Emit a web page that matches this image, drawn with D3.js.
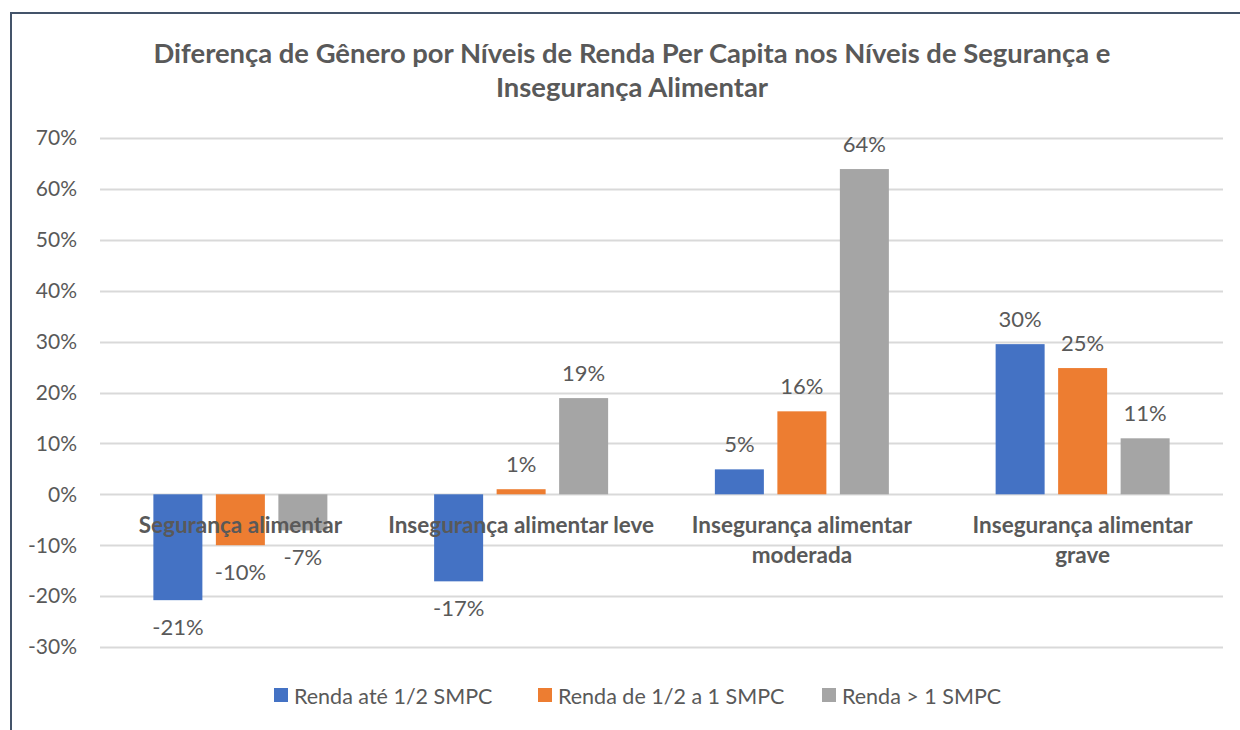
<!DOCTYPE html>
<head>
    <meta charset="utf-8">
    <script src="https://cdnjs.cloudflare.com/ajax/libs/d3/7.9.0/d3.js"></script>
    <style>
        body { margin: 0; background: #fff; }
        text { font-family: Lato, "Open Sans", sans-serif; fill: #595959; }
    </style>
</head>
<body>
    <div id="chart"></div>
</body>
<script>

// chart data

const categories = ["Segurança alimentar", "Insegurança alimentar leve", "Insegurança alimentar moderada", "Insegurança alimentar grave"]
const categoryLines = [["Segurança alimentar"], ["Insegurança alimentar leve"], ["Insegurança alimentar", "moderada"], ["Insegurança alimentar", "grave"]]
const seriesNames = ["Renda até 1/2 SMPC", "Renda de 1/2 a 1 SMPC", "Renda > 1 SMPC"]
const seriesColors = ["#4472c4", "#ed7d31", "#a5a5a5"]
const rendaAteMeio = [-0.208, -0.171, 0.049, 0.295]
const rendaMeioAUm = [-0.100, 0.010, 0.163, 0.248]
const rendaMaisDeUm = [-0.071, 0.189, 0.639, 0.110]
const yTicks = [-0.3, -0.2, -0.1, 0, 0.1, 0.2, 0.3, 0.4, 0.5, 0.6, 0.7]
const titleLines = ["Diferença de Gênero por Níveis de Renda Per Capita nos Níveis de Segurança e", "Insegurança Alimentar"]

const seriesValues = [rendaAteMeio, rendaMeioAUm, rendaMaisDeUm]

const W = 1240, H = 730
const plot = {left: 100, right: 1223, top: 138, bottom: 647}

const svg = d3.select("#chart")
    .append("svg")
    .attr("width", W)
    .attr("height", H)

// outer frame (only top and left edges are visible in the picture)
svg.append("path")
    .attr("d", `M11,${H} L11,13 L${W},13`)
    .attr("fill", "none")
    .attr("stroke", "#44546a")
    .attr("stroke-width", 2)

// title
svg.append("text")
    .attr("text-anchor", "middle")
    .attr("font-weight", "bold")
    .attr("font-size", 27.4)
    .selectAll("tspan")
    .data(titleLines)
    .join("tspan")
    .attr("x", 632)
    .attr("y", (d, i) => 53 + i * 34)
    .attr("dy", "0.35em")
    .text(d => d)

// scales
const y = d3.scaleLinear()
    .domain([-0.3, 0.7])
    .range([plot.bottom, plot.top])

const x0 = d3.scaleBand()
    .domain(categories)
    .range([plot.left, plot.right])

const barW = 49, gap = 13.5
const x1 = d3.scaleBand()
    .domain(seriesNames)
    .range([0, barW * 3 + gap * 2])
    .paddingInner(gap / (barW + gap))

// hyphen for negatives, like the original
const pct = v => d3.format(".0%")(v).replace("−", "-")

// gridlines
svg.append("g")
    .selectAll("line")
    .data(yTicks)
    .join("line")
    .attr("x1", plot.left)
    .attr("x2", plot.right)
    .attr("y1", d => Math.round(y(d)) + 0.5)
    .attr("y2", d => Math.round(y(d)) + 0.5)
    .attr("stroke", "#d9d9d9")
    .attr("stroke-width", 2)

// y axis labels
svg.append("g")
    .selectAll("text")
    .data(yTicks)
    .join("text")
    .attr("x", 77)
    .attr("y", d => y(d))
    .attr("dy", "0.35em")
    .attr("text-anchor", "end")
    .attr("font-size", 21)
    .text(d => pct(d))

// bars
const groupOffset = (x0.bandwidth() - x1.range()[1]) / 2

const barData = []
seriesNames.forEach((s, si) => {
    categories.forEach((c, ci) => {
        barData.push({series: s, cat: c, value: seriesValues[si][ci], color: seriesColors[si]})
    })
})

svg.append("g")
    .selectAll("rect")
    .data(barData)
    .join("rect")
    .attr("x", d => x0(d.cat) + groupOffset + x1(d.series))
    .attr("width", x1.bandwidth())
    .attr("y", d => y(Math.max(0, d.value)))
    .attr("height", d => Math.abs(y(d.value) - y(0)))
    .attr("fill", d => d.color)

// category labels (drawn over the bars, near zero line)
const catG = svg.append("g")
categories.forEach((c, i) => {
    catG.append("text")
        .attr("text-anchor", "middle")
        .attr("font-weight", "bold")
        .attr("font-size", 22.5)
        .selectAll("tspan")
        .data(categoryLines[i])
        .join("tspan")
        .attr("x", x0(c) + x0.bandwidth() / 2)
        .attr("y", (d, j) => 525 + j * 30)
        .attr("dy", "0.35em")
        .text(d => d)
})

// value labels
svg.append("g")
    .selectAll("text")
    .data(barData)
    .join("text")
    .attr("x", d => x0(d.cat) + groupOffset + x1(d.series) + x1.bandwidth() / 2)
    .attr("y", d => d.value >= 0 ? y(d.value) - 25 : y(d.value) + 27)
    .attr("dy", "0.35em")
    .attr("text-anchor", "middle")
    .attr("font-size", 22)
    .text(d => pct(d.value))

// legend
const legendX = [274, 538, 822]
const legend = svg.append("g")
    .selectAll("g")
    .data(seriesNames)
    .join("g")
    .attr("transform", (d, i) => `translate(${legendX[i]}, 688)`)

legend.append("rect")
    .attr("width", 14)
    .attr("height", 14)
    .attr("fill", (d, i) => seriesColors[i])

legend.append("text")
    .attr("x", 20)
    .attr("y", 8)
    .attr("dy", "0.35em")
    .attr("font-size", 21.5)
    .text(d => d)

</script>
